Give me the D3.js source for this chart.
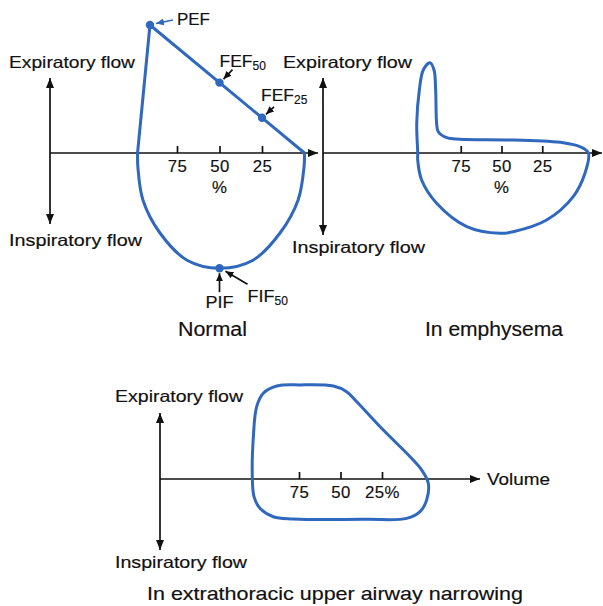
<!DOCTYPE html>
<html>
<head>
<meta charset="utf-8">
<script src="https://cdn.jsdelivr.net/npm/d3@7"></script>
<style>
  html, body { margin: 0; padding: 0; background: #fff; }
  svg { display: block; }
  text { font-family: "Liberation Sans", Arial, Helvetica, sans-serif; fill: #111; stroke: #111; stroke-width: 0.18px; }
</style>
</head>
<body>
<svg id="chart" width="603" height="606"></svg>
<script>
// Volume ticks (% of vital capacity remaining)
const volumeTicks = [75, 50, 25];
const tickLabelsPct = ["75", "50", "25"];
const tickLabelsVolume = ["75", "50", "25%"];

// Normal loop: expiratory limb [volume %, flow], inspiratory limb [volume %, flow]
const normalExpiratory = [[98.2, 0], [90.9, 8.0], [0, 0]];
const normalInspiratory = [[0, 0], [0.3, -0.9], [3.8, -2.95], [14.4, -5.0], [30.3, -6.7],
  [50, -7.2], [69.1, -6.7], [85, -5.0], [95, -2.95], [98, -0.9], [98.2, 0]];
// Named points on the normal loop
const normalPoints = [
  { name: "PEF", v: 90.9, f: 8.0 },
  { name: "FEF", sub: "50", v: 50, f: 4.4 },
  { name: "FEF", sub: "25", v: 25, f: 2.2 },
  { name: "PIF", v: 50, f: -7.2 }
];

// Emphysema loop, closed outline [volume %, flow]
const emphysemaLoop = [[101.4, 0], [102.0, 1.86], [100.4, 3.94], [98.0, 5.19], [93.9, 5.64],
  [91.4, 5.19], [90.4, 3.94], [89.8, 1.86], [88.8, 1.33], [83.6, 0.96], [75.5, 0.86],
  [42.8, 0.81], [12.1, 0.64], [1.8, 0.39], [-3.3, 0], [-1.2, -1.27], [6.0, -2.73],
  [22.3, -4.19], [42.8, -4.92], [50.9, -5.02], [71.3, -4.6], [89.8, -3.14],
  [99.0, -1.69], [101.4, -0.44]];

// Extrathoracic upper airway narrowing loop, closed outline [volume %, flow]
const upperAirwayLoop = [[103.1, 0], [102.5, 2.64], [100.5, 4.52], [96.5, 5.36], [88.4, 5.81],
  [74.4, 5.88], [54.3, 5.81], [46.3, 5.46], [40.2, 4.83], [24.2, 3.06], [8.1, 1.39],
  [1.1, 0.56], [-2.9, -0.27], [-1.9, -1.31], [2.1, -2.04], [10.1, -2.46], [34.2, -2.52],
  [78.4, -2.5], [90.5, -2.36], [98.5, -1.83], [102.1, -1.1]];

const BLUE = "#2f68bd";
const svg = d3.select("#chart");

const defs = svg.append("defs");
function arrowMarker(id, color, w, h) {
  defs.append("marker").attr("id", id)
    .attr("viewBox", `0 0 ${w} ${h}`).attr("refX", w).attr("refY", h / 2)
    .attr("markerWidth", w).attr("markerHeight", h).attr("markerUnits", "userSpaceOnUse")
    .attr("orient", "auto-start-reverse")
    .append("path").attr("d", `M0,0L${w},${h / 2}L0,${h}Z`).attr("fill", color);
}
arrowMarker("axisHead", "#111", 10, 8);
arrowMarker("ptrHead", "#111", 8, 7);
arrowMarker("ptrHeadBlue", BLUE, 8, 7);

// Text helper: font size plus the set width of the label
function label(g, t, px, py, size, width, anchor) {
  const el = g.append("text").attr("x", px).attr("y", py).attr("font-size", size).text(t);
  if (width) el.attr("textLength", width).attr("lengthAdjust", "spacingAndGlyphs");
  if (anchor) el.attr("text-anchor", anchor);
  return el;
}

// Build one panel: scales, axes, labels
function panel(cfg) {
  const g = svg.append("g");
  const x = d3.scaleLinear().domain([100, 0]).range(cfg.xRange);
  const y = d3.scaleLinear().domain([-8, 8]).range([cfg.y0 + 128, cfg.y0 - 128]);

  // Horizontal (volume) axis with arrow
  g.append("line").attr("x1", cfg.hAxis[0]).attr("x2", cfg.hAxis[1])
    .attr("y1", cfg.y0).attr("y2", cfg.y0)
    .attr("stroke", "#111").attr("stroke-width", 1.7).attr("marker-end", "url(#axisHead)");
  // Vertical (flow) axis with arrows at both ends
  g.append("line").attr("x1", cfg.hAxis[0]).attr("x2", cfg.hAxis[0])
    .attr("y1", cfg.vAxis[0]).attr("y2", cfg.vAxis[1])
    .attr("stroke", "#111").attr("stroke-width", 1.7)
    .attr("marker-start", "url(#axisHead)").attr("marker-end", "url(#axisHead)");

  // Ticks and labels via d3 axis
  const ax = d3.axisBottom(x).tickValues(volumeTicks)
    .tickFormat((d, i) => cfg.tickLabels[i])
    .tickSizeInner(-7).tickSizeOuter(0).tickPadding(7);
  const axg = g.append("g").attr("transform", `translate(0,${cfg.y0})`).call(ax);
  axg.select(".domain").remove();
  axg.selectAll(".tick line").attr("stroke", "#111").attr("stroke-width", 1.7);
  axg.selectAll(".tick text").attr("font-size", 16.8).attr("letter-spacing", 0.5)
    .attr("font-family", "Liberation Sans, Arial, sans-serif").attr("fill", "#111");
  if (cfg.pctBelow) label(g, "%", x(50), cfg.y0 + 40, 16.8, null, "middle");

  label(g, "Expiratory flow", cfg.expLabel[0], cfg.expLabel[1], 16.5, cfg.expLabel[2]);
  label(g, "Inspiratory flow", cfg.inspLabel[0], cfg.inspLabel[1], 16.5, cfg.inspLabel[2]);
  label(g, cfg.titleText, cfg.title[0], cfg.title[1], cfg.title[3], cfg.title[2]);
  return { g, x, y };
}

// Panel 1: normal
const p1 = panel({ xRange: [134.5, 304.5], y0: 153, hAxis: [50, 318], vAxis: [78, 224],
  tickLabels: tickLabelsPct, pctBelow: true,
  expLabel: [9, 67.5, 126], inspLabel: [9, 246, 133], title: [178, 335.5, 69, 19.5], titleText: "Normal" });
const line1 = d3.line().x(d => p1.x(d[0])).y(d => p1.y(d[1]));
p1.g.append("path").attr("d", line1(normalExpiratory))
  .attr("fill", "none").attr("stroke", BLUE).attr("stroke-width", 3).attr("stroke-linejoin", "round");
p1.g.append("path").attr("d", line1.curve(d3.curveCatmullRom)(normalInspiratory))
  .attr("fill", "none").attr("stroke", BLUE).attr("stroke-width", 3);
p1.g.selectAll("circle.pt").data(normalPoints).join("circle")
  .attr("cx", d => p1.x(d.v)).attr("cy", d => p1.y(d.f)).attr("r", 4.2).attr("fill", BLUE);

// Annotations: label offset and pointer offsets relative to each point
const notes = [
  { pt: 0, label: "PEF", sub: null, lx: 27, ly: 0, w: 33, from: [23, -5], to: [6, -1.5], blue: true },
  { pt: 1, label: "FEF", sub: "50", lx: 0, ly: -16, w: 33, from: [13, -13], to: [4, -3.5] },
  { pt: 2, label: "FEF", sub: "25", lx: -1, ly: -17, w: 33, from: [12, -11], to: [4, -3.5] },
  { pt: 3, label: "PIF", sub: null, lx: -14, ly: 40, w: 28, from: [0, 24], to: [0, 5] },
  { pt: 3, label: "FIF", sub: "50", lx: 28, ly: 34, w: 27, from: [28, 16], to: [6, 3] }
];
notes.forEach(n => {
  const p = normalPoints[n.pt];
  const cx = p1.x(p.v), cy = p1.y(p.f);
  p1.g.append("line")
    .attr("x1", cx + n.from[0]).attr("y1", cy + n.from[1])
    .attr("x2", cx + n.to[0]).attr("y2", cy + n.to[1])
    .attr("stroke", n.blue ? BLUE : "#111").attr("stroke-width", 1.7)
    .attr("marker-end", n.blue ? "url(#ptrHeadBlue)" : "url(#ptrHead)");
  const t = p1.g.append("text").attr("x", cx + n.lx).attr("y", cy + n.ly).attr("font-size", 17);
  t.append("tspan").attr("textLength", n.w).attr("lengthAdjust", "spacingAndGlyphs").text(n.label);
  if (n.sub) t.append("tspan").attr("font-size", 12).attr("dy", 3).text(n.sub);
});

// Panel 2: emphysema
const p2 = panel({ xRange: [420, 583], y0: 153, hAxis: [323, 602], vAxis: [78, 235],
  tickLabels: tickLabelsPct, pctBelow: true,
  expLabel: [283, 68, 129], inspLabel: [292, 253, 133], title: [425, 335.5, 138, 19.5], titleText: "In emphysema" });
p2.g.append("path")
  .attr("d", d3.line().x(d => p2.x(d[0])).y(d => p2.y(d[1])).curve(d3.curveCatmullRomClosed)(emphysemaLoop))
  .attr("fill", "none").attr("stroke", BLUE).attr("stroke-width", 3);

// Panel 3: extrathoracic upper airway narrowing
const p3 = panel({ xRange: [257.5, 423.5], y0: 479, hAxis: [160, 480], vAxis: [413, 550],
  tickLabels: tickLabelsVolume, pctBelow: false,
  expLabel: [115, 402, 128], inspLabel: [115, 568, 132], title: [147, 599.5, 376, 18.5],
  titleText: "In extrathoracic upper airway narrowing" });
p3.g.append("path")
  .attr("d", d3.line().x(d => p3.x(d[0])).y(d => p3.y(d[1])).curve(d3.curveCatmullRomClosed)(upperAirwayLoop))
  .attr("fill", "none").attr("stroke", BLUE).attr("stroke-width", 3);
label(p3.g, "Volume", 487, 485, 16.8, 63);
</script>
</body>
</html>
